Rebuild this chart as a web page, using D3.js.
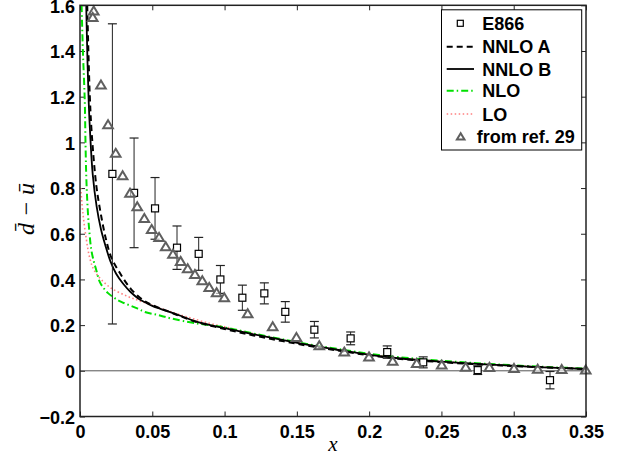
<!DOCTYPE html>
<html><head><meta charset="utf-8">
<script src="https://cdn.jsdelivr.net/npm/d3@7"></script>
<style>
body{margin:0;background:#fff;}
svg text{font-family:"Liberation Sans",Arial,Helvetica,sans-serif;font-weight:bold;}
</style></head>
<body>
<svg id="chart" width="629" height="462"></svg>
<script>
// ---- data ----
const xTicks = [0,0.05,0.1,0.15,0.2,0.25,0.3,0.35];
const xTickLabels = ["0","0.05","0.1","0.15","0.2","0.25","0.3","0.35"];
const yTicks = [-0.2,0,0.2,0.4,0.6,0.8,1,1.2,1.4,1.6];
const yTickLabels = ["\u22120.2","0","0.2","0.4","0.6","0.8","1","1.2","1.4","1.6"];

// E866 data (x, value, error)
const e866X   = [0.0224,0.0374,0.0519,0.0671,0.0821,0.0971,0.1123,0.1275,0.1420,0.1621,0.1872,0.2125,0.2374,0.2751,0.3251];
const e866Y   = [0.862,0.779,0.711,0.539,0.512,0.400,0.320,0.339,0.258,0.180,0.142,0.082,0.037,0.003,-0.041];
const e866Err = [0.657,0.240,0.135,0.095,0.072,0.061,0.055,0.046,0.045,0.036,0.028,0.027,0.024,0.019,0.038];

// "from ref. 29" points
const refX = [0.0095,0.0088,0.0145,0.0194,0.0247,0.0295,0.0346,0.0396,0.0445,0.0496,0.0547,0.0593,0.0643,0.0696,0.0745,0.0795,0.0846,0.0894,0.0945,0.0998,0.1160,0.1333,0.1497,0.1655,0.1828,0.1999,0.2163,0.2329,0.2502,0.2668,0.2832,0.3002,0.3166,0.3332,0.3498];
const refY = [1.575,1.547,1.251,1.077,0.952,0.854,0.777,0.718,0.667,0.619,0.584,0.543,0.510,0.479,0.447,0.422,0.394,0.365,0.342,0.320,0.250,0.193,0.146,0.110,0.082,0.061,0.042,0.032,0.025,0.016,0.015,0.010,0.007,0.006,0.004];

// theory curves
const nnloAX = [0.0050,0.0058,0.0068,0.0081,0.0113,0.0143,0.0180,0.0217,0.0274,0.0350,0.0436,0.0500,0.0560,0.0650,0.0800,0.1000,0.1200,0.1400,0.1600,0.1800,0.2000,0.2200,0.2500,0.2800,0.3000,0.3250,0.3500];
const nnloAY = [1.60,1.40,1.20,1.04,0.81,0.69,0.575,0.495,0.430,0.360,0.310,0.288,0.272,0.250,0.215,0.183,0.155,0.130,0.107,0.087,0.068,0.053,0.038,0.027,0.021,0.014,0.008];

const nnloBX = [0.0043,0.0052,0.0060,0.0070,0.0088,0.0115,0.0145,0.0175,0.0210,0.0250,0.0300,0.0350,0.0400,0.0450,0.0500,0.0600,0.0700,0.0800,0.0900,0.1000,0.1200,0.1400,0.1600,0.1800,0.2000,0.2200,0.2500,0.2800,0.3000,0.3250,0.3500];
const nnloBY = [1.60,1.35,1.18,1.04,0.86,0.72,0.62,0.55,0.48,0.425,0.380,0.345,0.318,0.300,0.284,0.262,0.240,0.216,0.200,0.187,0.160,0.135,0.111,0.090,0.070,0.055,0.040,0.028,0.022,0.014,0.008];

const nloX = [0.0011,0.0020,0.0033,0.0038,0.0044,0.0055,0.0066,0.0078,0.0095,0.0113,0.0136,0.0160,0.0194,0.0240,0.0286,0.0400,0.0447,0.0540,0.0632,0.0793,0.1000,0.1200,0.1400,0.1600,0.1800,0.2000,0.2200,0.2500,0.2800,0.3000,0.3250,0.3500];
const nloY = [1.60,1.40,1.18,1.00,0.84,0.69,0.60,0.53,0.48,0.44,0.39,0.365,0.340,0.318,0.302,0.272,0.258,0.244,0.229,0.209,0.190,0.163,0.138,0.114,0.094,0.075,0.060,0.044,0.031,0.024,0.016,0.010];

const loX = [0.0005,0.0020,0.0044,0.0065,0.0090,0.0125,0.0170,0.0220,0.0332,0.0450,0.0600,0.0750,0.0900,0.1000,0.1200,0.1400,0.1600,0.1800,0.2000,0.2200,0.2500,0.2800,0.3000,0.3250,0.3500];
const loY = [0.80,0.69,0.575,0.50,0.45,0.415,0.385,0.360,0.325,0.298,0.264,0.234,0.207,0.193,0.162,0.136,0.112,0.091,0.072,0.057,0.041,0.029,0.022,0.015,0.009];

const legendLabels = ["E866","NNLO A","NNLO B","NLO","LO","from ref. 29"];

// ---- drawing ----
const svg = d3.select("#chart");
const L=80, R=586, T=5.3, B=416.5;
const x = d3.scaleLinear().domain([0,0.35]).range([L,R]);
const y = d3.scaleLinear().domain([-0.2,1.6]).range([B,T]);

svg.append("defs").append("clipPath").attr("id","clip")
  .append("rect").attr("x",L).attr("y",T).attr("width",R-L).attr("height",B-T);

// axes
const fs = 18;
const gx = svg.append("g").attr("transform",`translate(0,${B})`)
  .call(d3.axisBottom(x).tickValues(xTicks).tickSize(-5).tickPadding(9).tickFormat((d,i)=>xTickLabels[i]));
const gxt = svg.append("g").attr("transform",`translate(0,${T})`)
  .call(d3.axisTop(x).tickValues(xTicks).tickSize(-5).tickFormat(""));
const gy = svg.append("g").attr("transform",`translate(${L},0)`)
  .call(d3.axisLeft(y).tickValues(yTicks).tickSize(-5).tickPadding(5).tickFormat((d,i)=>yTickLabels[i]));
const gyr = svg.append("g").attr("transform",`translate(${R},0)`)
  .call(d3.axisRight(y).tickValues(yTicks).tickSize(-5).tickFormat(""));
[gx,gxt,gy,gyr].forEach(g=>{
  g.select(".domain").remove();
  g.selectAll(".tick line").attr("stroke","#222").attr("stroke-width",1);
  g.selectAll("text").attr("font-size",fs).attr("fill","#000")
    .style("font-family","'Liberation Sans',Arial,sans-serif").style("font-weight","bold");
});
gy.selectAll("text").attr("dy","0.38em");

// zero line
svg.append("line").attr("x1",x(0)).attr("x2",x(0.35)).attr("y1",y(0)).attr("y2",y(0))
  .attr("stroke","#555").attr("stroke-width",1);

// curves
const plot = svg.append("g").attr("clip-path","url(#clip)");
const zip = (a,b)=>a.map((v,i)=>[v,b[i]]);
const curves = [
  {d:zip(loX,loY), stroke:"#ff7f7f", w:1.6, dash:"1.5,2.5"},
  {d:zip(nloX,nloY), stroke:"#00e000", w:2, dash:"7,3,1.5,3"},
  {d:zip(nnloAX,nnloAY), stroke:"#000", w:2, dash:"6,4"},
  {d:zip(nnloBX,nnloBY), stroke:"#000", w:1.8, dash:null}
];
curves.forEach(c=>{
  plot.append("path").attr("d",d3.line().x(d=>x(d[0])).y(d=>y(d[1])).curve(d3.curveCatmullRom.alpha(0.5))(c.d))
    .attr("fill","none").attr("stroke",c.stroke).attr("stroke-width",c.w)
    .attr("stroke-dasharray",c.dash);
});

// E866 error bars and squares
const eg = svg.append("g");
e866X.forEach((xv,i)=>{
  const cx=x(xv), top=y(e866Y[i]+e866Err[i]), bot=y(e866Y[i]-e866Err[i]);
  eg.append("line").attr("x1",cx).attr("x2",cx).attr("y1",top).attr("y2",bot).attr("stroke","#222").attr("stroke-width",1);
  eg.append("line").attr("x1",cx-4.5).attr("x2",cx+4.5).attr("y1",top).attr("y2",top).attr("stroke","#222").attr("stroke-width",1.2);
  eg.append("line").attr("x1",cx-4.5).attr("x2",cx+4.5).attr("y1",bot).attr("y2",bot).attr("stroke","#222").attr("stroke-width",1.2);
});
eg.selectAll("rect.sq").data(e866X).join("rect").attr("class","sq")
  .attr("x",d=>x(d)-3.5).attr("y",(d,i)=>y(e866Y[i])-3.5).attr("width",7).attr("height",7)
  .attr("fill","#fff").attr("stroke","#000").attr("stroke-width",1.2);

// triangles
const tri = "M0,-4.5L4.8,3.5L-4.8,3.5Z";
svg.append("g").selectAll("path").data(refX).join("path")
  .attr("d",tri).attr("transform",(d,i)=>`translate(${x(d)},${y(refY[i])})`)
  .attr("fill","#fff").attr("fill-opacity",0.6).attr("stroke","#5f5f5f").attr("stroke-width",2);

// frame
svg.append("rect").attr("x",L).attr("y",T).attr("width",R-L).attr("height",B-T)
  .attr("fill","none").attr("stroke","#222").attr("stroke-width",1.5);

// axis labels
svg.append("text").attr("x",333).attr("y",451).attr("text-anchor","middle")
  .style("font-family","'Liberation Serif','Times New Roman',serif").style("font-style","italic").style("font-weight","normal")
  .attr("font-size",21).text("x");
svg.append("text").attr("transform","translate(34,209) rotate(-90)").attr("text-anchor","middle")
  .style("font-family","'Liberation Serif','Times New Roman',serif").style("font-style","italic").style("font-weight","normal")
  .attr("font-size",24).text("d\u0304 \u2212 u\u0304");

// legend
const lg = svg.append("g");
lg.append("rect").attr("x",441.5).attr("y",9.8).attr("width",140.2).attr("height",140.2)
  .attr("fill","#fff").attr("stroke","#000").attr("stroke-width",1);
const rowY = [23.3,46.7,69,90.7,114,136.7];
legendLabels.forEach((lab,i)=>{
  const ry=rowY[i];
  lg.append("text").attr("x", i===5?476.7:482.3).attr("y",ry+6.5).attr("font-size",fs).attr("fill","#000").text(lab);
});
lg.append("rect").attr("x",460.3-3).attr("y",rowY[0]-3).attr("width",6).attr("height",6).attr("fill","#fff").attr("stroke","#000").attr("stroke-width",1.2);
const sampleCurves = [curves[2],curves[3],curves[1],curves[0]];
sampleCurves.forEach((c,k)=>{
  const ry=rowY[k+1];
  lg.append("line").attr("x1",446.7).attr("x2",474).attr("y1",ry).attr("y2",ry)
    .attr("stroke",c.stroke).attr("stroke-width",c.w).attr("stroke-dasharray",c.dash);
});
lg.append("path").attr("d","M0,-3.5L3.8,2.8L-3.8,2.8Z").attr("transform",`translate(460.7,${rowY[5]})`)
  .attr("fill","#fff").attr("stroke","#5f5f5f").attr("stroke-width",2);
</script>
</body></html>
